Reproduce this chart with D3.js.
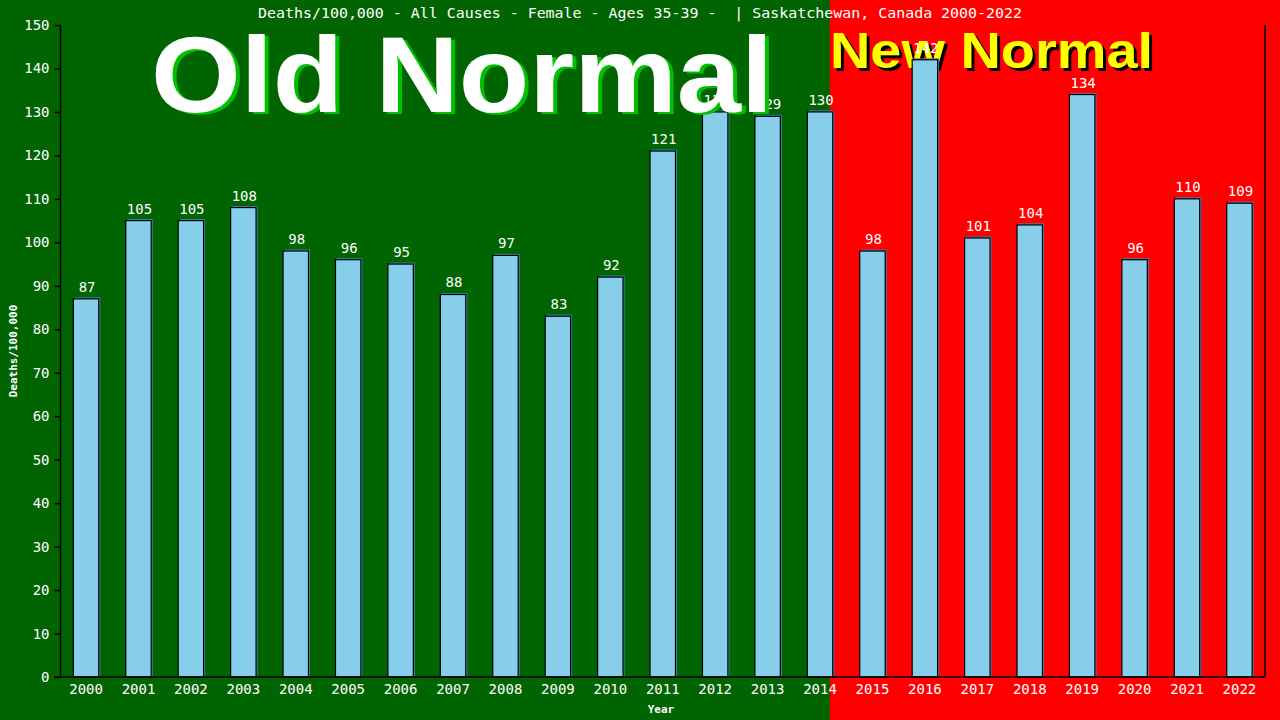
<!DOCTYPE html>
<html>
<head>
<meta charset="utf-8">
<script src="https://cdnjs.cloudflare.com/ajax/libs/d3/7.8.5/d3.min.js"></script>
<style>
  html, body { margin: 0; padding: 0; background: #006400; }
  svg { display: block; }
  text { white-space: pre; }
</style>
</head>
<body>
<div class="svg-container"></div>
<script>
// Data
const years = ['2000','2001','2002','2003','2004','2005','2006','2007','2008','2009','2010','2011',
               '2012','2013','2014','2015','2016','2017','2018','2019','2020','2021','2022'];
const deaths = [87,105,105,108,98,96,95,88,97,83,92,121,130,129,130,98,142,101,104,134,96,110,109];
const yTicks = [0,10,20,30,40,50,60,70,80,90,100,110,120,130,140,150];

const W = 1280, H = 720;
const M = { top: 25, right: 15, bottom: 43, left: 60.5 };
const MONO = '"DejaVu Sans Mono", monospace';
const SANS = '"Liberation Sans", Arial, sans-serif';

const svg = d3.select('.svg-container').append('svg')
    .attr('width', W)
    .attr('height', H);

const x = d3.scaleBand()
    .domain(years)
    .range([M.left, W - M.right])
    .paddingInner(0.515)
    .paddingOuter(0.245);

const y = d3.scaleLinear()
    .domain([0, 150])
    .range([H - M.bottom, M.top]);

// backgrounds: old normal / new normal
const split = x('2014') + x.bandwidth() - 3;
svg.append('rect').attr('x', 0).attr('y', 0).attr('width', split).attr('height', H).attr('fill', '#006400');
svg.append('rect').attr('x', split).attr('y', 0).attr('width', W - split).attr('height', H).attr('fill', '#ff0000');

// New Normal (behind the bars)
const nn = svg.append('g');
nn.append('text').attr('x', 833).attr('y', 71)
    .attr('font-family', SANS).attr('font-weight', 'bold')
    .attr('font-size', 50).attr('textLength', 323).attr('lengthAdjust', 'spacingAndGlyphs')
    .attr('fill', '#000').text('New Normal');
nn.append('text').attr('x', 830).attr('y', 68)
    .attr('font-family', SANS).attr('font-weight', 'bold')
    .attr('font-size', 50).attr('textLength', 323).attr('lengthAdjust', 'spacingAndGlyphs')
    .attr('fill', '#ffff00').text('New Normal');

// title
svg.append('text').attr('x', 640).attr('y', 18).attr('text-anchor', 'middle')
    .attr('font-family', MONO).attr('font-size', 14.5).attr('fill', '#fff')
    .attr('textLength', 764).attr('lengthAdjust', 'spacingAndGlyphs')
    .text('Deaths/100,000 - All Causes - Female - Ages 35-39 -  | Saskatchewan, Canada 2000-2022');

// bars
const bars = svg.append('g');
bars.selectAll('rect.shadow').data(deaths).enter().append('rect')
    .attr('class', 'shadow')
    .attr('x', (d, i) => x(years[i]) + 1.5)
    .attr('y', d => y(d) - 1.5)
    .attr('width', x.bandwidth())
    .attr('height', d => y(0) - y(d) + 1.5)
    .attr('fill', '#4682b4');
bars.selectAll('rect.bar').data(deaths).enter().append('rect')
    .attr('class', 'bar')
    .attr('x', (d, i) => x(years[i]))
    .attr('y', d => y(d))
    .attr('width', x.bandwidth())
    .attr('height', d => y(0) - y(d))
    .attr('fill', '#87ceeb')
    .attr('stroke', '#000')
    .attr('stroke-width', 1.2);

// value labels
svg.append('g').selectAll('text').data(deaths).enter().append('text')
    .attr('x', (d, i) => x(years[i]) + x.bandwidth() / 2 + 1)
    .attr('y', d => y(d) - 7)
    .attr('text-anchor', 'middle')
    .attr('font-family', MONO).attr('font-size', 14).attr('fill', '#fff')
    .text(d => d);

// axes
const yAxis = svg.append('g').attr('transform', `translate(${M.left},0)`)
    .call(d3.axisLeft(y).tickValues(yTicks).tickSize(6).tickPadding(5));
yAxis.select('.domain').attr('stroke', '#000').attr('stroke-width', 1.5).attr('d', `M0,${y(150)}V${y(0)}`);
yAxis.selectAll('.tick line').attr('stroke', '#000').attr('stroke-width', 1.5);
yAxis.selectAll('.tick text').attr('fill', '#fff').attr('font-family', MONO).attr('font-size', 14);

const xAxis = svg.append('g').attr('transform', `translate(0,${y(0)})`)
    .call(d3.axisBottom(x).tickSize(0).tickPadding(7));
xAxis.select('.domain').attr('stroke', '#000').attr('stroke-width', 1.5)
    .attr('d', `M${M.left - 6},0H${W - M.right}`);
xAxis.selectAll('.tick text').attr('fill', '#fff').attr('font-family', MONO).attr('font-size', 14);

// right border
svg.append('line').attr('x1', W - M.right).attr('x2', W - M.right)
    .attr('y1', y(150)).attr('y2', y(0)).attr('stroke', '#000').attr('stroke-width', 1.5);

// axis titles
svg.append('text').attr('transform', 'translate(17,351) rotate(-90)')
    .attr('text-anchor', 'middle').attr('font-family', MONO).attr('font-weight', 'bold')
    .attr('font-size', 11).attr('fill', '#fff').text('Deaths/100,000');
svg.append('text').attr('x', 661).attr('y', 713).attr('text-anchor', 'middle')
    .attr('font-family', MONO).attr('font-weight', 'bold')
    .attr('font-size', 11).attr('fill', '#fff').text('Year');

// Old Normal (over the labels)
const on = svg.append('g');
on.append('text').attr('x', 155).attr('y', 114)
    .attr('font-family', SANS).attr('font-weight', 'bold')
    .attr('font-size', 108).attr('textLength', 622).attr('lengthAdjust', 'spacingAndGlyphs')
    .attr('fill', '#00c000').text('Old Normal');
on.append('text').attr('x', 151).attr('y', 112)
    .attr('font-family', SANS).attr('font-weight', 'bold')
    .attr('font-size', 108).attr('textLength', 622).attr('lengthAdjust', 'spacingAndGlyphs')
    .attr('fill', '#fff').text('Old Normal');
</script>
</body>
</html>
